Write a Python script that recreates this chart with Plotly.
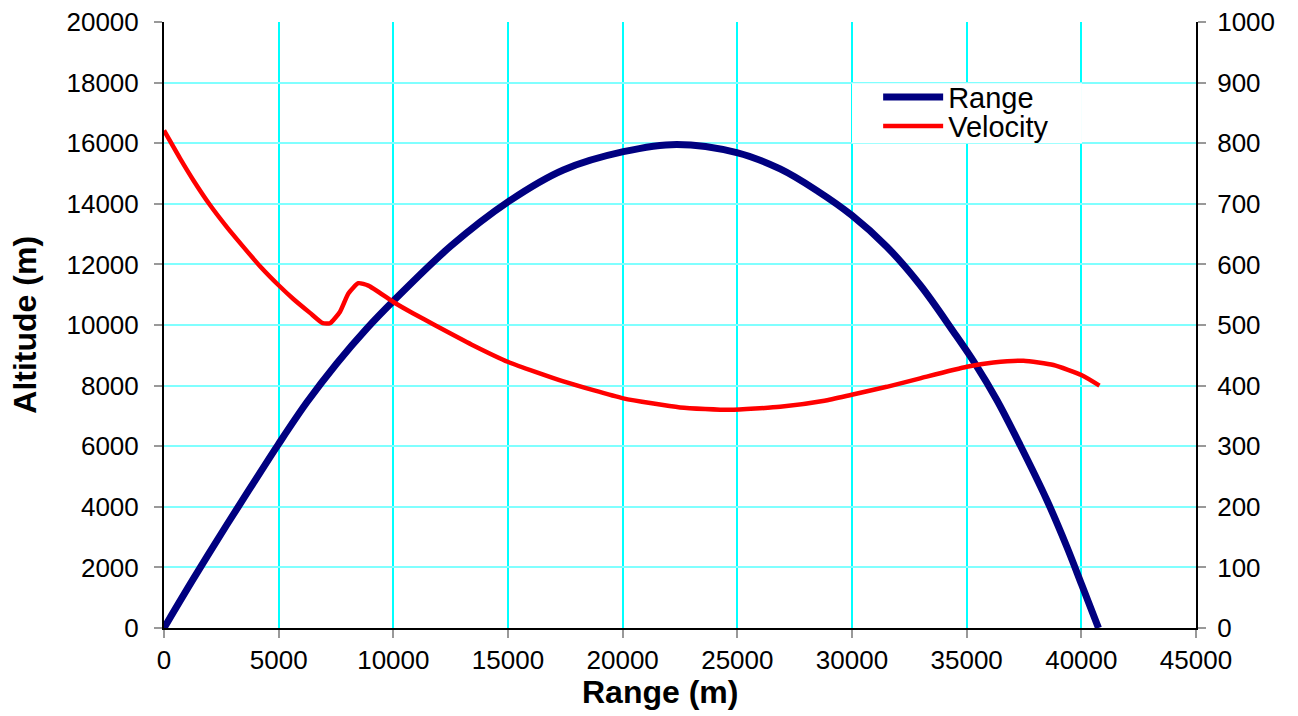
import plotly.graph_objects as go

# Trajectory: altitude (m) against downrange distance (m)
range_x = [0, 1279, 2733, 3896, 4986, 6222, 7531, 8839, 10000, 12500,
           15015, 17414, 20031, 22358, 24974, 26865, 28500, 29990,
           31516, 32970, 34423, 35360, 36315, 37330, 38495, 39367, 40021, 40748]
altitude = [0, 1620, 3400, 4780, 6060, 7440, 8730, 9880, 10790, 12600,
            14070, 15116, 15720, 15960, 15690, 15150, 14420, 13620,
            12584, 11320, 9780, 8735, 7525, 6040, 4224, 2683, 1419, 0]

# Velocity (m/s) along the same trajectory
vel_x = [0, 698, 1279, 2006, 2733, 3460, 4187, 4986, 5640, 6367, 6920, 7240,
         7676, 8040, 8476, 8912, 10000, 10872, 11800, 13400, 15015, 17414,
         20031, 22503, 24684, 26865, 28800, 29990, 31516, 32970, 35005,
         36168, 37476, 38785, 40021, 40791]
velocity = [821, 775, 739, 698, 662, 629, 597, 566, 543, 520, 503, 503,
            522, 552, 569, 565, 538, 519, 500, 468, 439, 407,
            379, 364, 360, 365, 375, 385, 398, 412, 431,
            438, 441, 434, 417, 400]

x_ticks = list(range(0, 45001, 5000))
alt_ticks = list(range(0, 20001, 2000))
vel_ticks = list(range(0, 1001, 100))

FONT = "Liberation Sans, Arial, sans-serif"
TICK_STYLE = dict(ticks="outside", ticklen=8, tickcolor="#999999", tickwidth=2,
                  showline=True, linecolor="black", linewidth=2,
                  zeroline=False, automargin=False)

fig = go.Figure()
fig.add_trace(go.Scatter(
    x=range_x, y=altitude, name="Range", mode="lines",
    line=dict(color="#000080", width=7, shape="spline", smoothing=1.0),
    yaxis="y", legend="legend"))
fig.add_trace(go.Scatter(
    x=vel_x, y=velocity, name="Velocity", mode="lines",
    line=dict(color="#ff0000", width=4.5, shape="spline", smoothing=0.5),
    yaxis="y2", legend="legend2"))

legend_common = dict(
    xanchor="left", yanchor="middle", bgcolor="rgba(0,0,0,0)", borderwidth=0,
    font=dict(family=FONT, size=29, color="black"), itemwidth=60,
)

fig.update_layout(
    width=1298, height=716,
    margin=dict(l=164, r=102, t=22, b=88),
    paper_bgcolor="white", plot_bgcolor="white",
    font=dict(family=FONT, size=26, color="black"),
    showlegend=True,
    legend=dict(x=0.692, y=0.876, **legend_common),
    legend2=dict(x=0.692, y=0.828, **legend_common),
    # white panel behind the legend entries
    shapes=[dict(type="rect", xref="paper", yref="paper",
                 x0=0.6667, x1=0.8895, y0=0.8, y1=0.899,
                 fillcolor="white", line=dict(width=0), layer="above")],
    # axis titles, centred on the chart area
    annotations=[
        dict(text="<b>Range (m)</b>", xref="paper", yref="paper",
             x=0.4806, y=-0.105, xanchor="center", yanchor="middle",
             showarrow=False, font=dict(family=FONT, size=32)),
        dict(text="<b>Altitude (m)</b>", xref="paper", yref="paper",
             x=-0.135, y=0.5, xanchor="center", yanchor="middle",
             textangle=-90, showarrow=False, font=dict(family=FONT, size=32)),
    ],
    xaxis=dict(
        range=[0, 45000], tickvals=x_ticks,
        ticktext=[str(v) for v in x_ticks],
        showgrid=True, gridcolor="#00ffff", gridwidth=2,
        **TICK_STYLE,
    ),
    yaxis=dict(
        range=[0, 20000], tickvals=alt_ticks,
        ticktext=[str(v) for v in alt_ticks],
        showgrid=True, gridcolor="#80ffff", gridwidth=1.5,
        ticklabelstandoff=10,
        **TICK_STYLE,
    ),
    yaxis2=dict(
        range=[0, 1000], tickvals=vel_ticks,
        ticktext=[str(v) for v in vel_ticks],
        overlaying="y", side="right", showgrid=False,
        ticklabelstandoff=6,
        **TICK_STYLE,
    ),
)

fig.write_html("out.html")
